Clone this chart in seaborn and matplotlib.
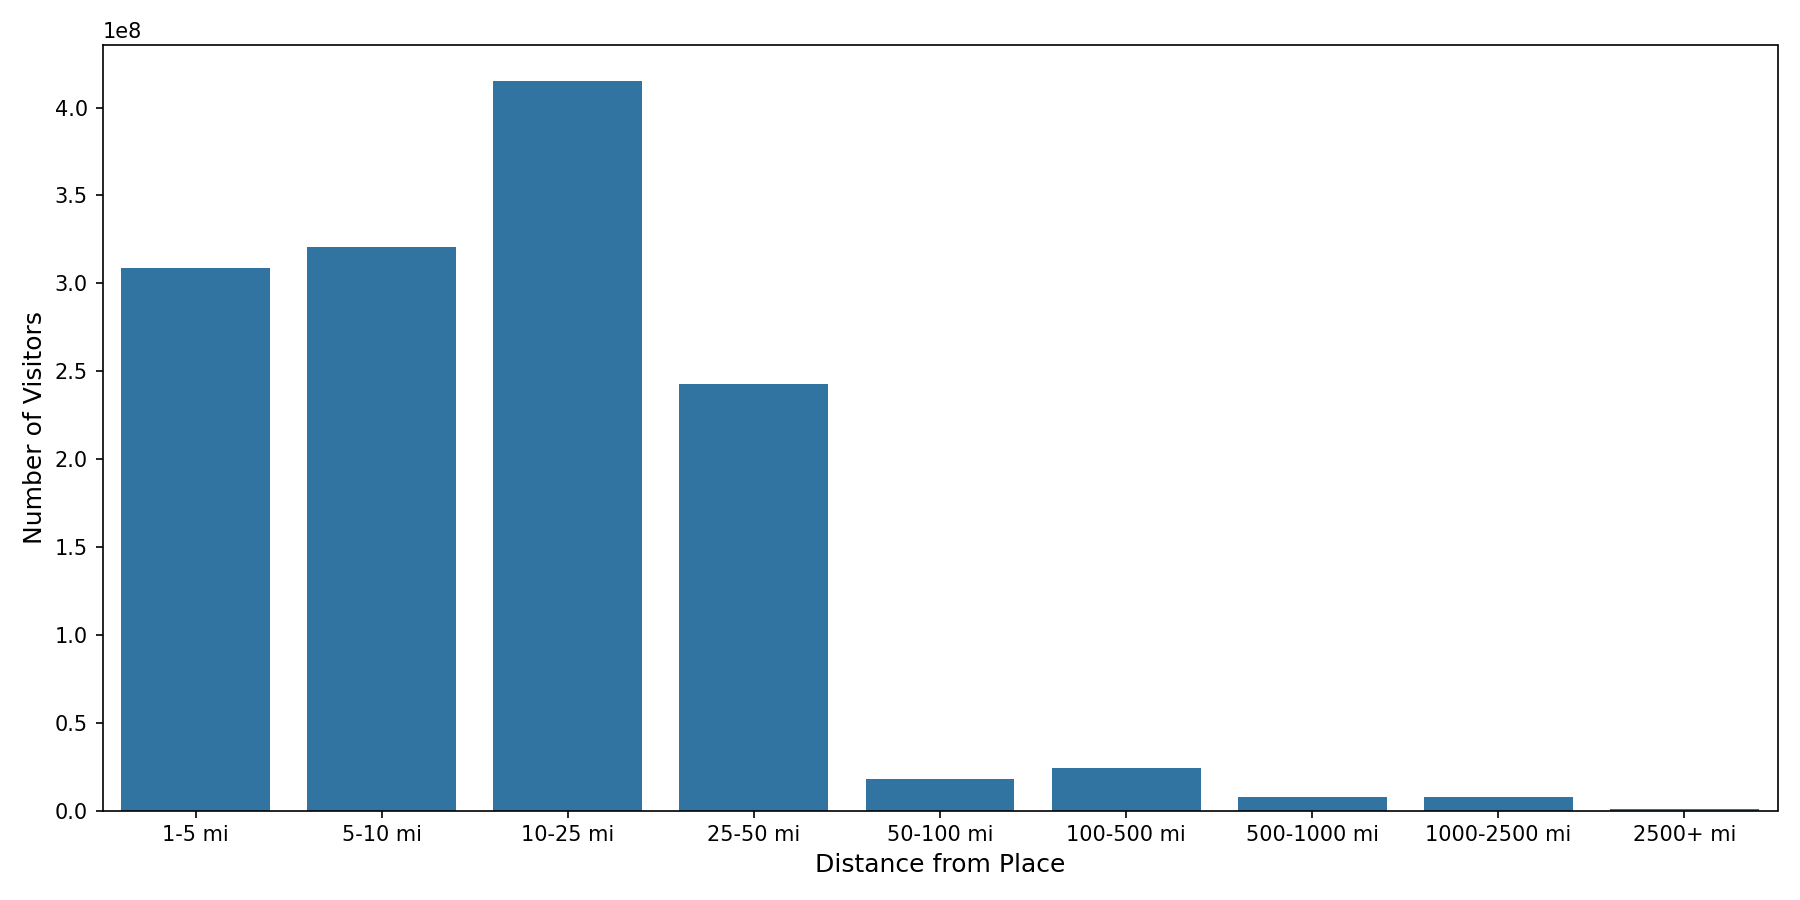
import matplotlib
matplotlib.use("Agg")
import matplotlib.pyplot as plt
import seaborn as sns
import pandas as pd

# Values
distance_bins = ['1-5 mi', '5-10 mi', '10-25 mi', '25-50 mi', '50-100 mi',
                 '100-500 mi', '500-1000 mi', '1000-2500 mi', '2500+ mi']
visitors = [3.09e8, 3.205e8, 4.15e8, 2.425e8, 0.18e8,
            0.24e8, 0.075e8, 0.075e8, 0.008e8]

df = pd.DataFrame({'Distance': distance_bins, 'Visitors': visitors})

fig, ax = plt.subplots(figsize=(12, 6), dpi=150)
sns.barplot(data=df, x='Distance', y='Visitors', color='#1f77b4', saturation=0.75, ax=ax)
ax.set_xlabel('Distance from Place', fontsize=12)
ax.set_ylabel('Number of Visitors', fontsize=12)
plt.tight_layout()
plt.savefig('out.png')
